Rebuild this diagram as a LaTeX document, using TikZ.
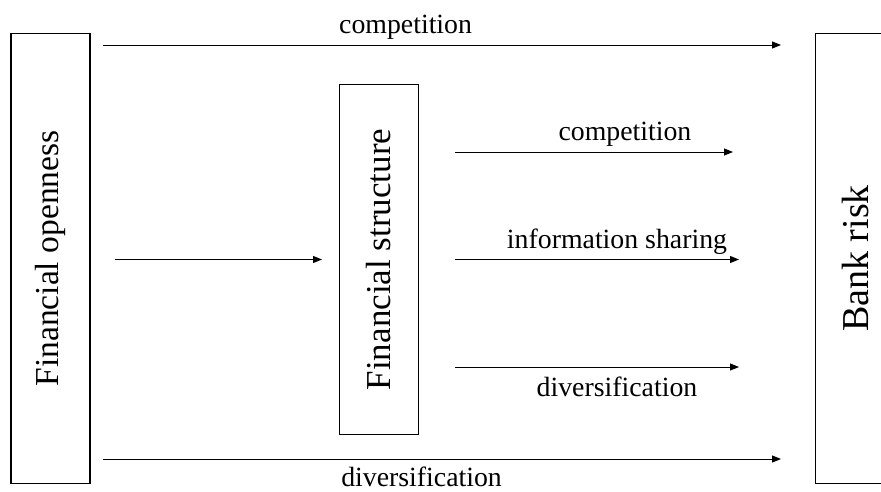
\documentclass[tikz,border=0pt]{standalone}
\usepackage{fontspec}
\setmainfont{Liberation Serif}
\usetikzlibrary{positioning, arrows.meta}

\begin{document}
\begin{tikzpicture}[
        x=1pt, y=-1pt,
        box/.style={draw, line width=1.6pt, inner sep=0pt, outer sep=0pt, minimum width=79pt, align=center},
        arr/.style={draw, line width=0.9pt, -{Triangle[length=9pt, width=7pt]}},
        lbl/.style={inner sep=0pt, font=\fontsize{27.8}{32}\selectfont}
    ]
    \useasboundingbox (0,0) rectangle (881,492);

    % Kaestchen
    \node[box, minimum height=450pt] (open) at (50.5,258.5) {\rotatebox{90}{\fontsize{33.5}{38}\selectfont Financial openness}};
    \node[box, minimum height=350pt] (struct) at (379,259.5) {\rotatebox{90}{\fontsize{35}{40}\selectfont Financial structure}};
    \node[box, minimum height=450pt] (risk) at (855,258.5) {\rotatebox{90}{\fontsize{38}{42}\selectfont Bank risk}};

    % Hoehen der Pfeile
    \coordinate (top) at (0,45);
    \coordinate (comp) at (0,152);
    \coordinate (info) at (0,259.5);
    \coordinate (div) at (0,367);
    \coordinate (bottom) at (0,459);

    % direkte Pfeile
    \draw[arr, shorten <=12.5pt, shorten >=34.5pt] (open.east |- top) -- (risk.west |- top)
        node[lbl, pos=0.435, above=5pt] {competition};
    \draw[arr, shorten <=12.5pt, shorten >=34.5pt] (open.east |- bottom) -- (risk.west |- bottom)
        node[lbl, pos=0.457, below=7pt] {diversification};

    % ueber die Finanzstruktur
    \draw[arr, shorten <=24.5pt, shorten >=17.5pt] (open.east |- struct.west) -- (struct.west);
    \draw[arr, shorten <=36.5pt, shorten >=82.5pt] (struct.east |- comp) -- (risk.west |- comp)
        node[lbl, pos=0.52, above=5pt] {competition};
    \draw[arr, shorten <=36.5pt, shorten >=76.5pt] (struct.east |- info) -- (risk.west |- info)
        node[lbl, midway, above=5pt] {information sharing};
    \draw[arr, shorten <=36.5pt, shorten >=76.5pt] (struct.east |- div) -- (risk.west |- div)
        node[lbl, midway, below=9pt] {diversification};

\end{tikzpicture}
\end{document}
